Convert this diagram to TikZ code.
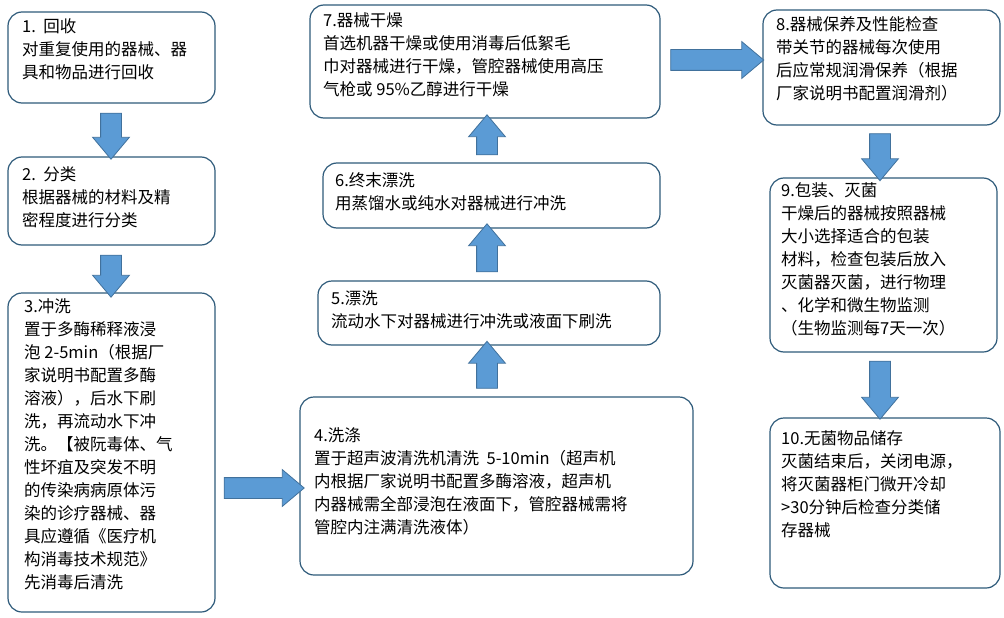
\documentclass[tikz,border=0pt]{standalone}
\usepackage{fontspec}
\setmainfont{Noto Sans CJK SC}
\usetikzlibrary{shapes.arrows}
\definecolor{bfill}{HTML}{5B9BD5}
\definecolor{bdraw}{HTML}{41719C}
\definecolor{boxline}{HTML}{2E5A7A}
\begin{document}
\begin{tikzpicture}[x=1pt,y=-1pt,
  box/.style={draw=boxline,line width=1.2pt,rounded corners=14pt},
  txt/.style={anchor=north west,align=left,inner sep=0pt,font=\fontsize{16.5}{23}\selectfont},
  arr/.style={single arrow,draw=bdraw,fill=bfill,line width=0.8pt,single arrow head extend=8pt,inner xsep=0pt,inner ysep=10pt,single arrow head indent=0pt,single arrow tip angle=80}]
\useasboundingbox (0,0) rectangle (1004,618);
\draw[box] (8,12) rectangle (215,103);
\draw[box] (8,157) rectangle (215,245);
\draw[box] (8,293) rectangle (215,612);
\draw[box] (300,397) rectangle (693,575);
\draw[box] (318,281) rectangle (660,345);
\draw[box] (323,163) rectangle (660,228);
\draw[box] (310,5) rectangle (660,118);
\draw[box] (763,10) rectangle (1000,125);
\draw[box] (770,178) rectangle (997,352);
\draw[box] (770,418) rectangle (1000,588);
\node[txt] (t1) at (22,18) {1.\ \ 回收\\对重复使用的器械、器\\具和物品进行回收};
\node[txt] (t2) at (22,166) {2.\ \ 分类\\根据器械的材料及精\\密程度进行分类};
\node[txt] (t3) at (24,298) {3.冲洗\\置于多酶稀释液浸\\泡 2-5min（根据厂\\家说明书配置多酶\\溶液），后水下刷\\洗，再流动水下冲\\洗。【被阮毒体、气\\性坏疽及突发不明\\的传染病病原体污\\染的诊疗器械、器\\具应遵循《医疗机\\构消毒技术规范》\\先消毒后清洗};
\node[txt] (t4) at (314,427) {4.洗涤\\置于超声波清洗机清洗\ \ 5-10min（超声机\\内根据厂家说明书配置多酶溶液，超声机\\内器械需全部浸泡在液面下，管腔器械需将\\管腔内注满清洗液体）};
\node[txt] (t5) at (331,290) {5.漂洗\\流动水下对器械进行冲洗或液面下刷洗};
\node[txt] (t6) at (335,172) {6.终末漂洗\\用蒸馏水或纯水对器械进行冲洗};
\node[txt] (t7) at (323,12) {7.器械干燥\\首选机器干燥或使用消毒后低絮毛\\巾对器械进行干燥，管腔器械使用高压\\气枪或 95\%乙醇进行干燥};
\node[txt] (t8) at (776,16) {8.器械保养及性能检查\\带关节的器械每次使用\\后应常规润滑保养（根据\\厂家说明书配置润滑剂）};
\node[txt] (t9) at (781,182) {9.包装、灭菌\\干燥后的器械按照器械\\大小选择适合的包装\\材料，检查包装后放入\\灭菌器灭菌，进行物理\\、化学和微生物监测\\（生物监测每7天一次）};
\node[txt] (t10) at (781,430) {10.无菌物品储存\\灭菌结束后，关闭电源，\\将灭菌器柜门微开冷却\\>30分钟后检查分类储\\存器械};
\node[arr,rotate=-90,minimum height=46pt] (a12) at (111,130) {};
\node[arr,rotate=-90,minimum height=42pt] (a23) at (111,270) {};
\node[arr,minimum height=80pt] (a34) at (258,488) {};
\node[arr,rotate=90,minimum height=47pt] (a45) at (487,371) {};
\node[arr,rotate=90,minimum height=48pt] (a56) at (487,254) {};
\node[arr,rotate=90,minimum height=40pt] (a67) at (487,141) {};
\node[arr,minimum height=93pt] (a78) at (711,60) {};
\node[arr,rotate=-90,minimum height=47pt] (a89) at (880,151) {};
\node[arr,rotate=-90,minimum height=58pt] (a910) at (880,384) {};
\end{tikzpicture}
\end{document}
